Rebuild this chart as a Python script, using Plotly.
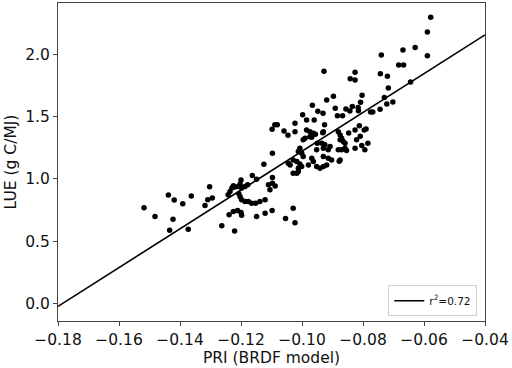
import plotly.graph_objects as go

# PRI (BRDF model) values
pri = [
    -0.1518, -0.1482, -0.1438, -0.1419, -0.1423, -0.1434, -0.1391, -0.1363, -0.1373, -0.1318,
    -0.1309, -0.1303, -0.1294, -0.1263, -0.1239, -0.1221, -0.1225, -0.1211, -0.1200, -0.1198,
    -0.1149, -0.1121,
    -0.1242, -0.1236, -0.1230, -0.1225, -0.1220, -0.1209, -0.1203, -0.1198, -0.1207, -0.1203,
    -0.1198, -0.1187, -0.1176, -0.1165, -0.1152, -0.1138, -0.1121, -0.1187, -0.1178, -0.1200,
    -0.1163, -0.1149, -0.1110, -0.1105, -0.1097, -0.1088, -0.1098, -0.1029, -0.1054, -0.1023,
    -0.1097,
    -0.1125, -0.1097, -0.1045, -0.1039, -0.1017, -0.1012, -0.1017, -0.1029, -0.1007, -0.1001,
    -0.1012, -0.1001, -0.0996, -0.1007, -0.1029, -0.1012,
    -0.0985, -0.0974, -0.0963, -0.0974, -0.0990, -0.0996, -0.0930, -0.0881, -0.0875, -0.0870,
    -0.0865, -0.0859, -0.0875, -0.0826, -0.0821, -0.1023, -0.0935, -0.0925, -0.0930, -0.0908,
    -0.0914, -0.0952, -0.0881, -0.0870, -0.0859, -0.0826, -0.0968, -0.0963, -0.0930, -0.0914,
    -0.0903, -0.0919, -0.0930, -0.0952, -0.0941, -0.0875, -0.0979, -0.0950, -0.0878, -0.0847,
    -0.0812, -0.0796, -0.0790, -0.0809, -0.0784, -0.0804, -0.0794, -0.0854,
    -0.0897, -0.0919, -0.0966, -0.0948, -0.0931, -0.0891, -0.0884, -0.0867, -0.0998, -0.0985,
    -0.0960, -0.0926, -0.1023, -0.1081, -0.1089, -0.1098, -0.1059, -0.1046, -0.0956, -0.0932,
    -0.0968, -0.0928, -0.0826, -0.0842, -0.0826, -0.0803, -0.0808, -0.0816, -0.0815, -0.0835,
    -0.0843, -0.0856,
    -0.0578, -0.0589, -0.0589, -0.0629, -0.0669, -0.0683, -0.0667, -0.0740, -0.0743, -0.0720,
    -0.0644, -0.0717, -0.0730, -0.0722, -0.0702, -0.0744, -0.0768, -0.0775,
]

# LUE (g C/MJ) values
lue = [
    0.767, 0.697, 0.869, 0.829, 0.676, 0.588, 0.799, 0.861, 0.596, 0.785,
    0.831, 0.935, 0.845, 0.623, 0.711, 0.580, 0.737, 0.745, 0.729, 0.707,
    0.697, 0.724,
    0.871, 0.897, 0.925, 0.943, 0.933, 0.938, 0.959, 0.925, 0.879, 0.855,
    0.831, 0.817, 0.817, 0.804, 0.804, 0.817, 0.831, 0.938, 0.951, 0.991,
    1.026, 0.997, 0.951, 0.911, 0.965, 0.941, 0.745, 0.763, 0.681, 0.647,
    1.011,
    1.117, 1.205, 1.125, 1.111, 1.138, 1.085, 1.045, 1.151, 1.119, 1.098,
    1.218, 1.205, 1.178, 1.245, 1.045, 1.058,
    1.392, 1.378, 1.365, 1.338, 1.325, 1.312, 1.378, 1.378, 1.352, 1.325,
    1.298, 1.285, 1.312, 1.392, 1.312, 1.378, 1.285, 1.272, 1.245, 1.258,
    1.232, 1.232, 1.232, 1.232, 1.245, 1.245, 1.165, 1.138, 1.178, 1.165,
    1.151, 1.111, 1.098, 1.098, 1.085, 1.151, 1.111, 1.285, 1.141, 1.368,
    1.426, 1.392, 1.400, 1.341, 1.285, 1.266, 1.232, 1.226,
    1.662, 1.632, 1.590, 1.542, 1.526, 1.566, 1.506, 1.506, 1.514, 1.472,
    1.472, 1.434, 1.446, 1.434, 1.434, 1.397, 1.384, 1.349, 1.357, 1.370,
    1.333, 1.862, 1.854, 1.803, 1.793, 1.670, 1.614, 1.571, 1.546, 1.579,
    1.544, 1.560,
    2.295, 2.177, 1.987, 2.054, 2.033, 1.913, 1.913, 1.993, 1.843, 1.822,
    1.776, 1.728, 1.651, 1.600, 1.616, 1.558, 1.536, 1.536,
]

# Regression line
fit_slope = 15.56
fit_intercept = 2.777
fit_x = [-0.18, -0.04]
fit_y = [fit_slope * v + fit_intercept for v in fit_x]
fit_label = "r<sup>2</sup>=0.72"

x_ticks = [-0.18, -0.16, -0.14, -0.12, -0.10, -0.08, -0.06, -0.04]
y_ticks = [0.0, 0.5, 1.0, 1.5, 2.0]

fig = go.Figure()
fig.add_trace(go.Scatter(
    x=pri, y=lue, mode="markers",
    marker=dict(color="black", size=5.5),
    showlegend=False,
))
fig.add_trace(go.Scatter(
    x=fit_x, y=fit_y, mode="lines",
    line=dict(color="black", width=1.6),
    name=fit_label,
))

axis_common = dict(
    showline=True, linecolor="#444", linewidth=1, mirror=True,
    ticks="outside", ticklen=4, tickcolor="#444", tickwidth=1,
    showgrid=False, zeroline=False,
    tickfont=dict(family="DejaVu Sans", size=15.5, color="#111"),
)

fig.update_layout(
    width=512, height=368,
    margin=dict(l=58, r=27, t=3, b=47),
    paper_bgcolor="white", plot_bgcolor="white",
    font=dict(family="DejaVu Sans", color="#111"),
    xaxis=dict(
        range=[-0.18, -0.04], tickvals=x_ticks, tickformat=".2f",
        title=dict(text="PRI (BRDF model)", font=dict(size=15.5), standoff=2),
        **axis_common,
    ),
    yaxis=dict(
        range=[-0.141, 2.41], tickvals=y_ticks, tickformat=".1f",
        title=dict(text="LUE (g C/MJ)", font=dict(size=15.5), standoff=4),
        **axis_common,
    ),
    legend=dict(
        x=0.982, y=0.015, xanchor="right", yanchor="bottom",
        bordercolor="#d0d0d0", borderwidth=1, bgcolor="white",
        font=dict(family="DejaVu Sans", size=10.5),
        itemwidth=30, tracegroupgap=0,
    ),
)

fig.write_html(
    "out.html",
    config={"displayModeBar": False},
    post_script="document.body.style.margin='0px';",
)
